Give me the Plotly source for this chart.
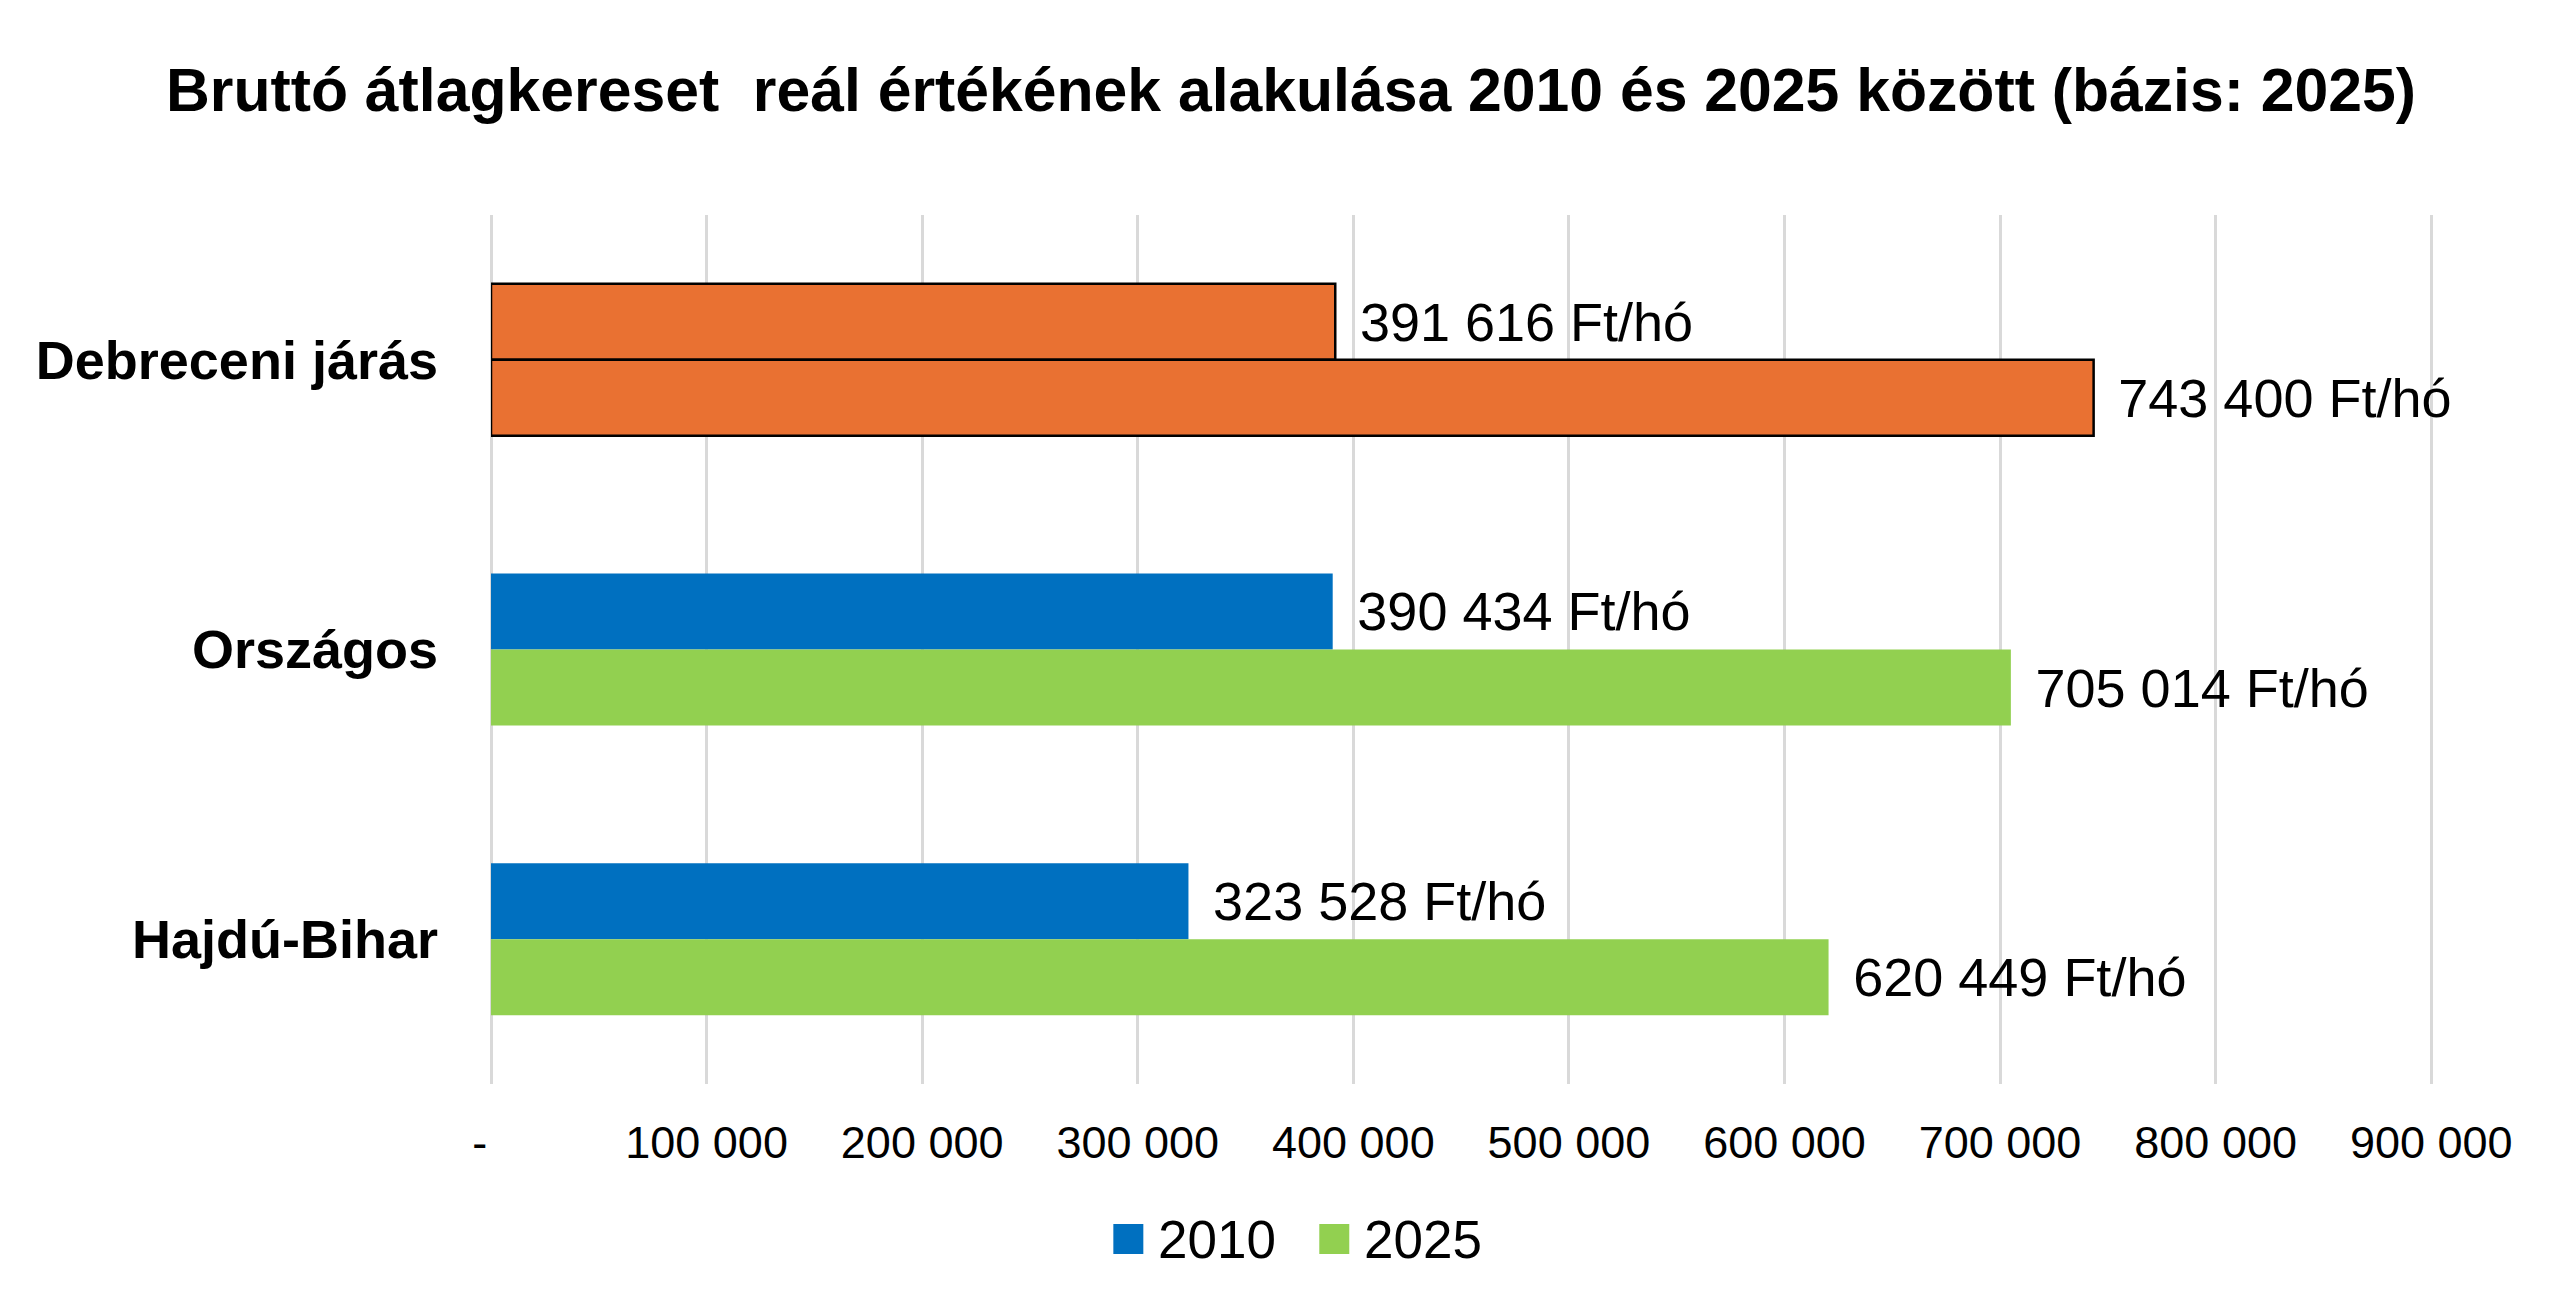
import plotly.graph_objects as go

# Data
categories = ["Debreceni járás", "Országos", "Hajdú-Bihar"]
series_names = ["2010", "2025"]
values_2010 = [391616, 390434, 323528]
values_2025 = [743400, 705014, 620449]
tick_vals = [0, 100000, 200000, 300000, 400000, 500000, 600000, 700000, 800000, 900000]
tick_text = ["-\u2002", "100 000", "200 000", "300 000", "400 000", "500 000",
             "600 000", "700 000", "800 000", "900 000"]

BLUE = "#0070C0"
GREEN = "#92D050"
ORANGE = "#E97132"
FONT = "Liberation Sans, Arial, sans-serif"

W, H = 2560, 1309
# a little room past 900 000 so its gridline is still drawn
X_MAX = 905000
L, R, T, B = 482.5, 126, 207, 233
PW, PH = W - L - R, H - T - B


def px2paper(x, y):
    return (x - L) / PW, (H - B - y) / PH


def fmt(v):
    return "\u2009\u2009" + f"{v:,}".replace(",", " ") + " Ft/hó"


def bar_style(base_color):
    # first category (Debreceni járás) is highlighted in orange with a black outline
    colors = [ORANGE] + [base_color] * (len(categories) - 1)
    widths = [2.5] + [0] * (len(categories) - 1)
    return dict(color=colors, line=dict(color="black", width=widths))


fig = go.Figure()
for name, vals, col in [(series_names[0], values_2010, BLUE),
                        (series_names[1], values_2025, GREEN)]:
    fig.add_trace(go.Bar(
        y=categories, x=vals, orientation="h", name=name,
        marker=bar_style(col),
        text=[fmt(v) for v in vals], textposition="outside",
        textfont=dict(family=FONT, size=54, color="black"),
        constraintext="none", cliponaxis=False, showlegend=False,
    ))

fig.update_layout(
    width=W, height=H,
    margin=dict(l=L, r=R, t=T, b=B, autoexpand=False),
    paper_bgcolor="white", plot_bgcolor="white",
    barmode="group", bargap=0.475, bargroupgap=0,
    font=dict(family=FONT, color="black"),
    title=dict(
        text="<b>Bruttó átlagkereset \u00a0reál értékének alakulása 2010 és 2025 között (bázis: 2025)</b>",
        x=1283 / W, xanchor="center", y=1 - 82 / H, yanchor="middle",
        font=dict(family=FONT, size=60.7, color="black"),
    ),
    xaxis=dict(
        range=[0, X_MAX], tickvals=tick_vals, ticktext=tick_text,
        showgrid=True, gridcolor="#D9D9D9", gridwidth=2.5,
        zeroline=True, zerolinecolor="#D9D9D9", zerolinewidth=2.5,
        showline=False, ticks="", ticklabelstandoff=28,
        tickfont=dict(family=FONT, size=45, color="black"),
        fixedrange=True,
    ),
    yaxis=dict(
        categoryorder="array", categoryarray=categories, autorange="reversed",
        showgrid=False, zeroline=False, showline=False, ticks="",
        ticklabelstandoff=52,
        tickfont=dict(family=FONT, size=54, color="black", weight="bold"),
        fixedrange=True,
    ),
    showlegend=False,
)

# Legend drawn by hand so the colour squares match the original size
legend_items = [(series_names[0], BLUE, 1105), (series_names[1], GREEN, 1311)]
for name, col, sx in legend_items:
    x0, y0 = px2paper(sx, 1246)
    x1, y1 = px2paper(sx + 30, 1216)
    fig.add_shape(type="rect", xref="paper", yref="paper",
                  x0=x0, x1=x1, y0=y0, y1=y1,
                  fillcolor=col, line=dict(width=0))
    tx, ty = px2paper(sx + 43, 1231)
    fig.add_annotation(text=name, xref="paper", yref="paper", x=tx, y=ty,
                       xanchor="left", yanchor="middle", showarrow=False,
                       font=dict(family=FONT, size=53, color="black"))

fig.write_html("out.html", config={"displayModeBar": False})
